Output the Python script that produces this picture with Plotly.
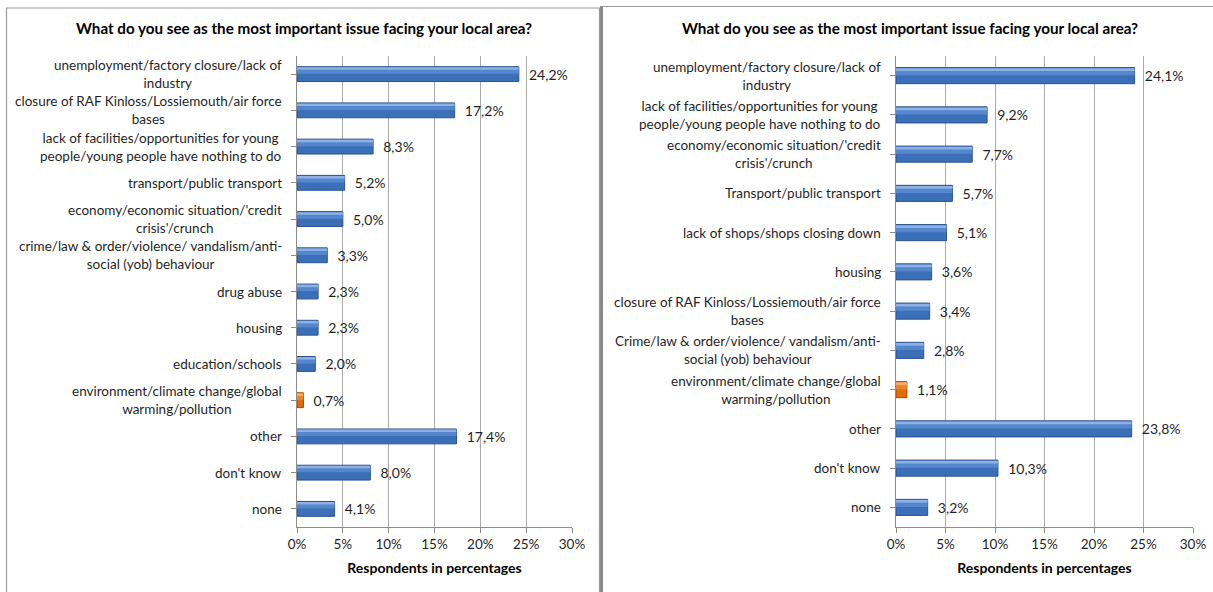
import plotly.graph_objects as go

W, H = 1213, 592

title_text = "What do you see as the most important issue facing your local area?"
axis_title = "Respondents in percentages"

left_labels = [
    "unemployment/factory closure/lack of<br>industry",
    "closure of RAF Kinloss/Lossiemouth/air force<br>bases",
    "lack of facilities/opportunities for young<br>people/young people have nothing to do",
    "transport/public transport",
    "economy/economic situation/'credit<br>crisis'/crunch",
    "crime/law & order/violence/ vandalism/anti-<br>social (yob) behaviour",
    "drug abuse",
    "housing",
    "education/schools",
    "environment/climate change/global<br>warming/pollution",
    "other",
    "don't know",
    "none",
]
left_values = [24.2, 17.2, 8.3, 5.2, 5.0, 3.3, 2.3, 2.3, 2.0, 0.7, 17.4, 8.0, 4.1]

right_labels = [
    "unemployment/factory closure/lack of<br>industry",
    "lack of facilities/opportunities for young<br>people/young people have nothing to do",
    "economy/economic situation/'credit<br>crisis'/crunch",
    "Transport/public transport",
    "lack of shops/shops closing down",
    "housing",
    "closure of RAF Kinloss/Lossiemouth/air force<br>bases",
    "Crime/law & order/violence/ vandalism/anti-<br>social (yob) behaviour",
    "environment/climate change/global<br>warming/pollution",
    "other",
    "don't know",
    "none",
]
right_values = [24.1, 9.2, 7.7, 5.7, 5.1, 3.6, 3.4, 2.8, 1.1, 23.8, 10.3, 3.2]

highlight_label = "environment/climate change/global<br>warming/pollution"
x_ticks = [0, 5, 10, 15, 20, 25, 30]
x_ticktext = [f"{v}%" for v in x_ticks]

FONT = "Lato, 'Open Sans', sans-serif"
TXT = "#1F1F1F"
BLUE = "#3B6FB8"
BLUE_EDGE = "#2A528F"
BLUE_HI = "#8DB2E3"
BLUE_MID = "#5587CE"
ORANGE = "#E36C09"
ORANGE_EDGE = "#9A4806"
ORANGE_HI = "#F7AE6E"
ORANGE_MID = "#EC8430"


def fmt(v):
    return "\u00a0\u00a0" + f"{v:.1f}%".replace(".", ",")


fig = go.Figure()


def add_panel(labels, values, xa, ya):
    idx = list(range(len(labels)))
    is_hi = [l == highlight_label for l in labels]
    base_cols = [ORANGE if h else BLUE for h in is_hi]
    edge_cols = [ORANGE_EDGE if h else BLUE_EDGE for h in is_hi]
    mid_cols = [ORANGE_MID if h else BLUE_MID for h in is_hi]
    hi_cols = [ORANGE_HI if h else BLUE_HI for h in is_hi]
    fig.add_trace(go.Bar(
        x=values, y=idx, orientation="h", xaxis=xa, yaxis=ya,
        width=0.41, offset=-0.205,
        marker=dict(color=base_cols, line=dict(color=edge_cols, width=1)),
        text=[fmt(v) for v in values], textposition="outside",
        constraintext="none",
        textfont=dict(family=FONT, size=14, color=TXT),
        cliponaxis=False, showlegend=False, hoverinfo="skip",
    ))
    fig.add_trace(go.Bar(
        x=values, y=idx, orientation="h", xaxis=xa, yaxis=ya,
        width=0.12, offset=-0.13,
        marker=dict(color=mid_cols, line=dict(width=0)),
        showlegend=False, hoverinfo="skip",
    ))
    fig.add_trace(go.Bar(
        x=values, y=idx, orientation="h", xaxis=xa, yaxis=ya,
        width=0.07, offset=-0.19,
        marker=dict(color=hi_cols, line=dict(width=0)),
        showlegend=False, hoverinfo="skip",
    ))


add_panel(left_labels, left_values, "x", "y")
add_panel(right_labels, right_values, "x2", "y2")

yb = 1 - 527 / H
yt = 1 - 56 / H

common_x = dict(
    range=[0, 30], tickvals=x_ticks, ticktext=x_ticktext,
    showgrid=True, gridcolor="#ABABAB", gridwidth=1,
    showline=True, linecolor="#8C8C8C", linewidth=1,
    ticks="outside", ticklen=5, tickcolor="#8C8C8C",
    tickfont=dict(family=FONT, size=13.5, color=TXT),
    zeroline=False, fixedrange=True, automargin=False,
    title=dict(text=f"<b>{axis_title}</b>", standoff=11,
               font=dict(family=FONT, size=14, color="#000000")),
)
fig.update_layout(
    xaxis=dict(domain=[297 / W, 572 / W], anchor="y", **common_x),
    xaxis2=dict(domain=[896 / W, 1193 / W], anchor="y2", **common_x),
)

common_y = dict(
    showticklabels=False, showgrid=False, zeroline=False,
    showline=True, linecolor="#8C8C8C", linewidth=1,
    ticks="outside", ticklen=5, tickcolor="#8C8C8C",
    tickson="boundaries", fixedrange=True, automargin=False,
)
fig.update_layout(
    yaxis=dict(domain=[yb, yt], anchor="x",
               range=[len(left_labels) - 0.5, -0.5],
               tickvals=list(range(len(left_labels))), **common_y),
    yaxis2=dict(domain=[yb, yt], anchor="x2",
                range=[len(right_labels) - 0.5, -0.5],
                tickvals=list(range(len(right_labels))), **common_y),
)

annotations = []
for i, lab in enumerate(left_labels):
    annotations.append(dict(
        x=284 / W, xref="paper", y=i, yref="y", text=lab, showarrow=False,
        xanchor="right", yanchor="middle", align="center",
        font=dict(family=FONT, size=13.5, color=TXT),
    ))
for i, lab in enumerate(right_labels):
    annotations.append(dict(
        x=883 / W, xref="paper", y=i, yref="y2", text=lab, showarrow=False,
        xanchor="right", yanchor="middle", align="center",
        font=dict(family=FONT, size=13.5, color=TXT),
    ))
for cx in (304, 910):
    annotations.append(dict(
        x=cx / W, xref="paper", y=1 - 28 / H, yref="paper",
        text=f"<b>{title_text}</b>", showarrow=False,
        xanchor="center", yanchor="middle",
        font=dict(family=FONT, size=15.2, color="#000000"),
    ))

shapes = [
    dict(type="rect", xref="paper", yref="paper",
         x0=6.5 / W, x1=599.5 / W, y0=-0.05, y1=1 - 8 / H,
         line=dict(color="#9A9A9A", width=1.2), fillcolor="rgba(0,0,0,0)"),
    dict(type="line", xref="paper", yref="paper",
         x0=601.5 / W, x1=601.5 / W, y0=-0.05, y1=1 - 6 / H,
         line=dict(color="#8A8A8A", width=3)),
    dict(type="line", xref="paper", yref="paper",
         x0=601 / W, x1=1.0, y0=1 - 6.5 / H, y1=1 - 6.5 / H,
         line=dict(color="#9A9A9A", width=1.2)),
]

fig.update_layout(
    width=W, height=H,
    margin=dict(l=0, r=0, t=0, b=0, autoexpand=False),
    paper_bgcolor="white", plot_bgcolor="white",
    barmode="overlay", bargap=0.5,
    annotations=annotations, shapes=shapes,
    font=dict(family=FONT, size=13, color=TXT),
)

fig.write_html(
    "out.html",
    config={"displayModeBar": False},
    post_script="document.body.style.margin='0';document.body.style.overflow='hidden';",
)
